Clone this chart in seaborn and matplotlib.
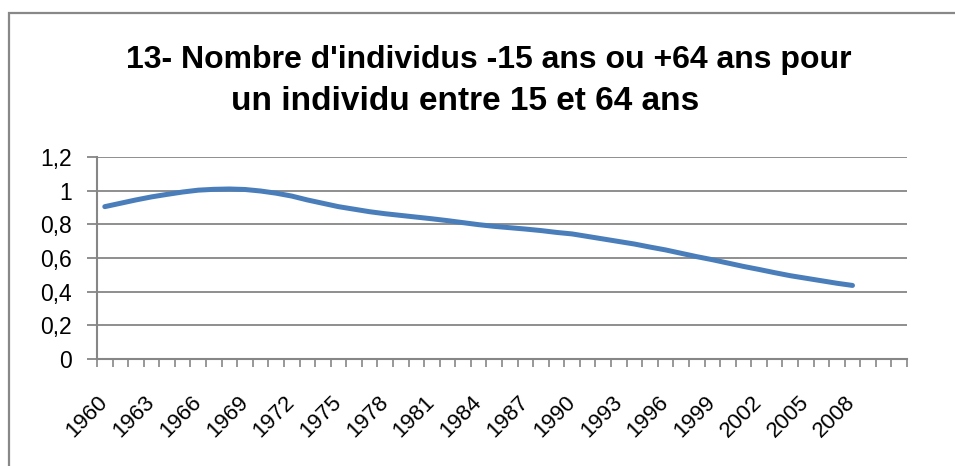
import numpy as np
import pandas as pd
import matplotlib
matplotlib.use('Agg')
import matplotlib.pyplot as plt
import seaborn as sns
from matplotlib.patches import Rectangle
from matplotlib.ticker import FixedLocator

# ── Data ──────────────────────────────────────────────────────────────────
years = list(range(1960, 2009))
ratio = [0.905, 0.925, 0.945, 0.963, 0.978, 0.992, 1.003, 1.008, 1.010, 1.007,
         0.998, 0.985, 0.968, 0.945, 0.925, 0.905, 0.890, 0.875, 0.863, 0.853,
         0.843, 0.833, 0.822, 0.810, 0.798, 0.788, 0.780, 0.772, 0.763, 0.752,
         0.743, 0.728, 0.713, 0.698, 0.683, 0.665, 0.648, 0.628, 0.608, 0.590,
         0.570, 0.550, 0.532, 0.513, 0.495, 0.480, 0.465, 0.450, 0.437]
cat_first, cat_last = 1960, 2011          # category axis runs past the data
label_years = list(range(1960, 2009, 3))
y_ticks = [0, 0.2, 0.4, 0.6, 0.8, 1.0, 1.2]
y_labels = ['0', '0,2', '0,4', '0,6', '0,8', '1', '1,2']
title_1 = "13- Nombre d'individus -15 ans ou +64 ans pour"
title_2 = "un individu entre 15 et 64 ans"

df = pd.DataFrame({'annee': years, 'ratio': ratio})

# ── Plot ──────────────────────────────────────────────────────────────────
sns.set_style('white')
plt.rcParams['font.family'] = ['Liberation Sans', 'DejaVu Sans']
GREY = '#868686'

fig = plt.figure(figsize=(9.55, 4.66), dpi=100)
ax = fig.add_axes([97/955, 1 - 359/466, 810/955, 202/466])

sns.lineplot(data=df, x='annee', y='ratio', ax=ax, color='#4A7EBB',
             linewidth=3.6, solid_capstyle='round', solid_joinstyle='round')

ax.set_xlim(cat_first - 0.5, cat_last + 0.5)
ax.set_ylim(0, 1.2)
ax.set_xlabel(''); ax.set_ylabel('')

ax.set_yticks(y_ticks)
ax.set_yticklabels(y_labels, fontsize=16.5)
ax.yaxis.grid(True, color=GREY, linewidth=1.3)
ax.set_axisbelow(True)

ax.set_xticks(label_years)
ax.set_xticklabels([str(y) for y in label_years], fontsize=16,
                   rotation=45, ha='right', va='center', rotation_mode='anchor')
ax.xaxis.set_minor_locator(FixedLocator(
    np.arange(cat_first - 0.5, cat_last + 1.0, 1.0)))
ax.tick_params(axis='x', which='major', length=0, pad=29, labelcolor='black')
ax.tick_params(axis='x', which='minor', length=6, width=1.2, color=GREY,
               direction='out', bottom=True)
ax.tick_params(axis='y', length=7, width=1.3, color=GREY, pad=11,
               direction='out', left=True, labelcolor='black')

for side in ('top', 'right'):
    ax.spines[side].set_visible(False)
for side in ('left', 'bottom'):
    ax.spines[side].set_color(GREY)
    ax.spines[side].set_linewidth(1.5)

fig.text(489/955, 1 - 68/466, title_1, ha='center', va='baseline',
         fontsize=23, fontweight='bold', color='black')
fig.text(465/955, 1 - 110/466, title_2, ha='center', va='baseline',
         fontsize=24, fontweight='bold', color='black')

# chart-area border (only top and left edges visible in the crop)
fig.patches.append(Rectangle((9/955, -0.1), 1.2, 1.1 - 13/466,
                             transform=fig.transFigure, fill=False,
                             edgecolor='#888888', linewidth=1.6))

fig.savefig('out.png', dpi=100, facecolor='white')
plt.close(fig)
